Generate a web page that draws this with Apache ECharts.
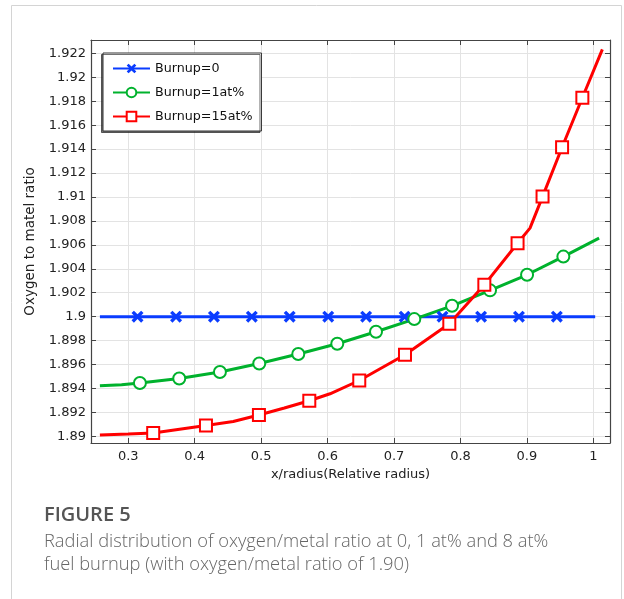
<!DOCTYPE html>
<html>
<head>
<meta charset="utf-8">
<script src="https://cdn.jsdelivr.net/npm/echarts@6/dist/echarts.min.js"></script>
<style>
  html, body { margin: 0; padding: 0; background: #fff; }
  #chart { width: 624px; height: 599px; }
</style>
</head>
<body>
<div id="chart"></div>
<script>
// tick positions
const xTicks = [0.3, 0.4, 0.5, 0.6, 0.7, 0.8, 0.9, 1.0];
const yTicks = [1.89, 1.892, 1.894, 1.896, 1.898, 1.9, 1.902, 1.904, 1.906,
                1.908, 1.91, 1.912, 1.914, 1.916, 1.918, 1.92, 1.922];

// Burnup=0 : flat at 1.90
const blueLineX = [0.2574, 1.0027];
const blueLineY = [1.9, 1.9];
const blueMarkX = [0.314, 0.372, 0.429, 0.486, 0.543, 0.601, 0.658, 0.716, 0.773, 0.831, 0.888, 0.945];
const blueMarkY = [1.9, 1.9, 1.9, 1.9, 1.9, 1.9, 1.9, 1.9, 1.9, 1.9, 1.9, 1.9];

// Burnup=1at%
const greenLineX = [0.2574, 0.29, 1.0086];
const greenLineY = [1.89423, 1.89432, 1.90656];
const greenMarkX = [0.3176, 0.3768, 0.438, 0.4972, 0.5559, 0.6146, 0.6729, 0.7305, 0.7873, 0.8445, 0.9002, 0.9548];
const greenMarkY = [1.89446, 1.89484, 1.89538, 1.89609, 1.89688, 1.89774, 1.89874, 1.8998, 1.90091, 1.9022, 1.9035, 1.90502];

// Burnup=15at%
const redLineX = [0.2574, 0.30, 0.458, 0.535, 0.6037, 0.9046, 1.0135];
const redLineY = [1.89012, 1.8902, 1.89125, 1.89237, 1.89356, 1.9074, 1.92233];
const redMarkX = [0.3376, 0.417, 0.4967, 0.5725, 0.6477, 0.7165, 0.7832, 0.8359, 0.8859, 0.9235, 0.9529, 0.9834];
const redMarkY = [1.89028, 1.89092, 1.89179, 1.89298, 1.89467, 1.89682, 1.89941, 1.90266, 1.90613, 1.91003, 1.91415, 1.91829];

// merge curve points and marker points, curve-only points get no symbol
function buildData(lx, ly, mx, my) {
  const pts = [];
  lx.forEach((x, i) => pts.push({ value: [x, ly[i]], symbol: 'none' }));
  mx.forEach((x, i) => pts.push({ value: [x, my[i]] }));
  pts.sort((a, b) => a.value[0] - b.value[0]);
  return pts;
}

const crossPath = 'path://M0,2L2,0L5,3L8,0L10,2L7,5L10,8L8,10L5,7L2,10L0,8L3,5Z';
const tickFont = 'DejaVu Sans';
const fmt = v => String(+(+v).toFixed(3));

const chart = echarts.init(document.getElementById('chart'), null, { renderer: 'canvas' });

const frameLine = { onZero: false, lineStyle: { color: '#444', width: 1.2 } };

const option = {
  backgroundColor: '#fff',
  animation: false,
  grid: { left: 91, right: 14, top: 40, bottom: 156, outerBoundsMode: 'none' },
  legend: {
    orient: 'vertical',
    left: 103,
    top: 53,
    itemWidth: 37,
    itemHeight: 12,
    itemGap: 11,
    padding: [9, 9, 8, 9],
    backgroundColor: '#fff',
    borderColor: '#333',
    borderWidth: 1,
    shadowColor: 'rgba(0,0,0,0.55)',
    shadowBlur: 0,
    shadowOffsetX: -1.5,
    shadowOffsetY: 1.5,
    textStyle: { fontFamily: tickFont, fontSize: 12.7, color: '#111' },
    data: ['Burnup=0', 'Burnup=1at%', 'Burnup=15at%']
  },
  xAxis: [
    {
      type: 'value',
      min: 0.244,
      max: 1.025,
      name: 'x/radius(Relative radius)',
      nameLocation: 'middle',
      nameGap: 21,
      nameTextStyle: { fontFamily: tickFont, fontSize: 13, color: '#222' },
      axisLine: frameLine,
      axisTick: { inside: true, length: 5, customValues: xTicks, lineStyle: { color: '#444' } },
      axisLabel: { customValues: xTicks, formatter: fmt, margin: 7, fontFamily: tickFont, fontSize: 13, color: '#222' },
      splitLine: { show: true, lineStyle: { color: '#e3e3e3', width: 1 } }
    },
    {
      type: 'value',
      position: 'top',
      min: 0.244,
      max: 1.025,
      axisLine: frameLine,
      axisTick: { inside: true, length: 5, customValues: xTicks, lineStyle: { color: '#444' } },
      axisLabel: { show: false },
      splitLine: { show: false }
    }
  ],
  yAxis: [
    {
      type: 'value',
      min: 1.88945,
      max: 1.92311,
      name: 'Oxygen to matel ratio',
      nameLocation: 'middle',
      nameGap: 53,
      nameTextStyle: { fontFamily: tickFont, fontSize: 13.5, color: '#222' },
      axisLine: frameLine,
      axisTick: { inside: true, length: 5, customValues: yTicks, lineStyle: { color: '#444' } },
      axisLabel: { customValues: yTicks, formatter: fmt, margin: 5, fontFamily: tickFont, fontSize: 13, color: '#222' },
      splitLine: { show: true, lineStyle: { color: '#e3e3e3', width: 1 } }
    },
    {
      type: 'value',
      position: 'right',
      min: 1.88945,
      max: 1.92311,
      axisLine: frameLine,
      axisTick: { inside: true, length: 5, customValues: yTicks, lineStyle: { color: '#444' } },
      axisLabel: { show: false },
      splitLine: { show: false }
    }
  ],
  series: [
    {
      name: 'Burnup=0',
      type: 'line',
      data: buildData(blueLineX, blueLineY, blueMarkX, blueMarkY),
      symbol: crossPath,
      symbolSize: 12,
      showAllSymbol: true,
      lineStyle: { color: '#0a3cff', width: 3 },
      itemStyle: { color: '#0a3cff' }
    },
    {
      name: 'Burnup=1at%',
      type: 'line',
      data: buildData(greenLineX, greenLineY, greenMarkX, greenMarkY),
      symbol: 'emptyCircle',
      symbolSize: 12,
      showAllSymbol: true,
      lineStyle: { color: '#00b22d', width: 3 },
      itemStyle: { color: '#00b22d', borderWidth: 2 }
    },
    {
      name: 'Burnup=15at%',
      type: 'line',
      data: buildData(redLineX, redLineY, redMarkX, redMarkY),
      symbol: 'emptyRect',
      symbolSize: 12,
      showAllSymbol: true,
      lineStyle: { color: '#ff0000', width: 3 },
      itemStyle: { color: '#ff0000', borderWidth: 2 }
    }
  ],
  graphic: [
    {
      type: 'rect',
      shape: { x: 11.5, y: 5.5, width: 610, height: 620 },
      style: { fill: 'none', stroke: '#d4d4d4', lineWidth: 1 },
      silent: true
    },
    {
      type: 'text',
      left: 44,
      top: 505,
      style: { text: 'FIGURE 5', font: '600 20px "Open Sans"', fill: '#555' }
    },
    {
      type: 'text',
      left: 44,
      top: 530,
      style: {
        text: 'Radial distribution of oxygen/metal ratio at 0, 1 at% and 8 at%\nfuel burnup (with oxygen/metal ratio of 1.90)',
        font: '300 18.3px "Open Sans"',
        lineHeight: 23,
        fill: '#666'
      }
    }
  ]
};

option && chart.setOption(option);
</script>
</body>
</html>
